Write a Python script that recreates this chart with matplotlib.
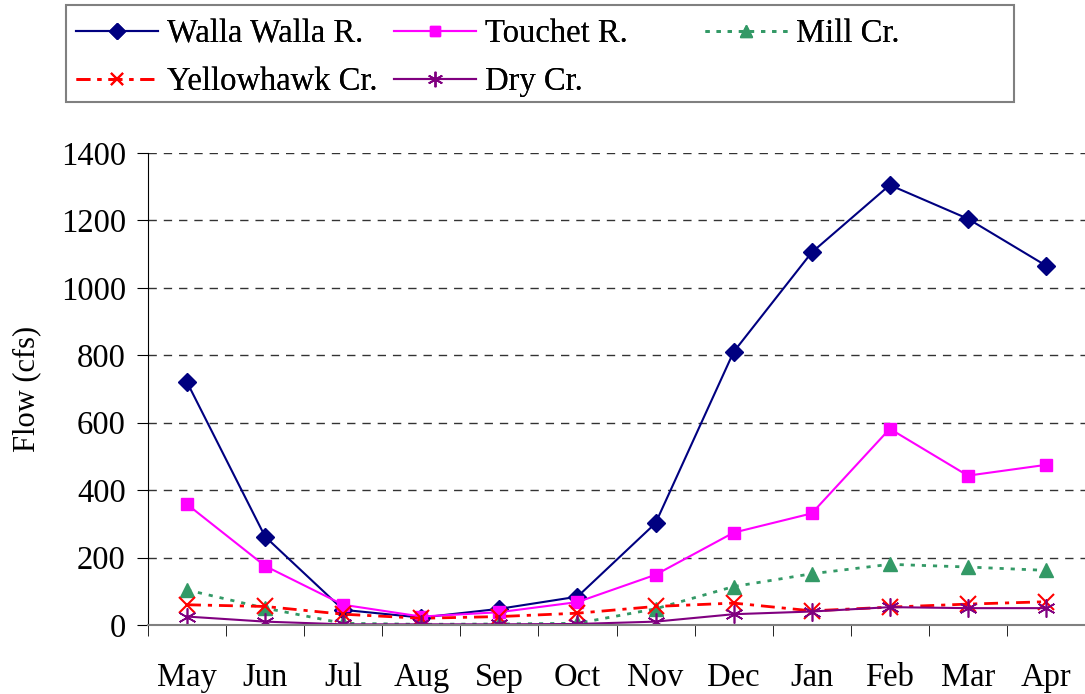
import matplotlib
matplotlib.use("Agg")
import matplotlib.pyplot as plt
from matplotlib.patches import Rectangle

months = ["May", "Jun", "Jul", "Aug", "Sep", "Oct", "Nov", "Dec", "Jan", "Feb", "Mar", "Apr"]

walla_walla = [720, 262, 45, 22, 48, 84, 302, 810, 1105, 1305, 1205, 1066]
touchet = [358, 175, 60, 25, 38, 68, 149, 274, 331, 582, 443, 475]
mill = [104, 50, 5, 2, 3, 5, 48, 114, 152, 180, 172, 162]
yellowhawk = [60, 55, 32, 20, 25, 35, 55, 65, 42, 53, 62, 69]
dry = [25, 10, 2, 2, 2, 3, 10, 32, 40, 53, 50, 50]

plt.rcParams["font.family"] = ["Liberation Serif", "DejaVu Serif"]
plt.rcParams["font.size"] = 23.5

W, H = 1085, 694
fig = plt.figure(figsize=(W / 100, H / 100), dpi=100)
ax = fig.add_axes([148 / W, 69 / H, 1 - 148 / W, 472 / H])

x = range(len(months))
h_ww, = ax.plot(x, walla_walla, color="#000080", lw=1.5, marker="D", ms=9,
                label="Walla Walla R.")
h_to, = ax.plot(x, touchet, color="#FF00FF", lw=1.5, marker="s", ms=9,
                label="Touchet R.")
h_mi, = ax.plot(x, mill, color="#339966", lw=2, ls=(0, (1.5, 2.5)), marker="^", ms=10,
                label="Mill Cr.")
h_ye, = ax.plot(x, yellowhawk, color="#FF0000", lw=2, ls=(0, (5, 2.5, 1.5, 2.5)),
                marker="x", ms=11, mew=1.5, label="Yellowhawk Cr.")
h_dr, = ax.plot(x, dry, color="#800080", lw=1.5, marker=(6, 2, 0), ms=13, mew=1.2,
                label="Dry Cr.")

ax.set_xlim(-0.5, 11.5)
ax.set_ylim(0, 1400)
ax.set_yticks(range(0, 1401, 200))
ax.set_xticks(list(x))
ax.set_xticklabels(months)
ax.set_xticks([i + 0.5 for i in range(-1, 12)], minor=True)
ax.tick_params(axis="x", which="major", length=0, pad=27)
ax.tick_params(axis="x", which="minor", length=8, direction="out", color="black")
ax.tick_params(axis="y", length=8, direction="out", pad=8)

for v in range(200, 1401, 200):
    ax.axhline(v, color="#333333", lw=1, ls=(0, (6, 5)), zorder=0)

ax.spines["top"].set_visible(False)
ax.spines["right"].set_visible(False)
ax.spines["bottom"].set_color("#808080")
ax.spines["bottom"].set_linewidth(1.5)
ax.set_ylabel("Flow (cfs)", fontsize=22, labelpad=14)

# legend: three equal-width columns inside one frame
fig.patches.append(Rectangle((66 / W, 1 - 102 / H), (1014 - 66) / W, 97 / H,
                             transform=fig.transFigure, fill=False,
                             edgecolor="#808080", lw=1.5))
columns = [([h_ww, h_ye], ["Walla Walla R.", "Yellowhawk Cr."], 76),
           ([h_to, h_dr], ["Touchet R.", "Dry Cr."], 394),
           ([h_mi], ["Mill Cr."], 705)]
for handles, labels, left in columns:
    leg = fig.legend(handles, labels, loc="upper left",
                     bbox_to_anchor=(left / W, 1 - 19 / H),
                     frameon=False, borderaxespad=0, borderpad=0,
                     handlelength=2.5, handletextpad=0.3, labelspacing=0.52,
                     markerscale=0.85)
    fig.add_artist(leg)

fig.savefig("out.png", dpi=100)
